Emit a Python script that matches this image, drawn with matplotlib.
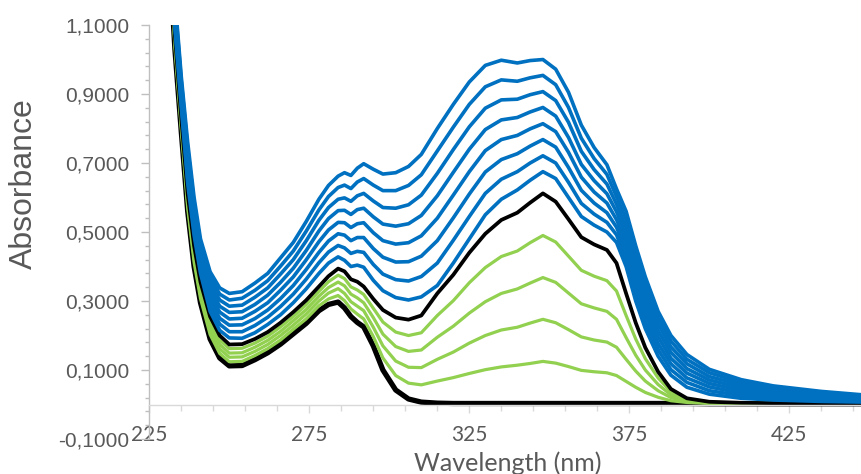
import matplotlib
matplotlib.use("Agg")
import matplotlib.pyplot as plt
from matplotlib.ticker import MultipleLocator, FixedLocator, FuncFormatter

# wavelength grid (nm) and absorbance
wavelength = [228, 231, 233, 235, 237, 239, 241, 244, 247, 250, 254, 258, 262, 266, 270,
              274, 278, 281, 284, 286, 288, 290, 292, 295, 298, 302, 306, 310, 315, 320,
              325, 330, 335, 340, 344, 348, 352, 356, 360, 364, 368, 371, 374, 377, 380,
              384, 388, 393, 400, 410, 420, 435, 448]

black_start = [2.00, 1.35, 1.03, 0.79, 0.56, 0.40, 0.295, 0.19, 0.135, 0.112, 0.113, 0.130, 0.150,
               0.175, 0.205, 0.235, 0.272, 0.290, 0.297, 0.280, 0.255, 0.238, 0.225, 0.170, 0.100,
               0.042, 0.016, 0.007, 0.004, 0.003, 0.003, 0.003, 0.003, 0.003, 0.003, 0.003, 0.003,
               0.003, 0.003, 0.003, 0.003, 0.003, 0.003, 0.003, 0.003, 0.003, 0.003, 0.003, 0.002,
               0.002, 0.002, 0.002, 0.002]

green_1 = [2.00, 1.356, 1.038, 0.798, 0.57, 0.412, 0.307, 0.203, 0.148, 0.124, 0.125, 0.142, 0.162,
           0.187, 0.218, 0.248, 0.286, 0.306, 0.316, 0.301, 0.277, 0.262, 0.248, 0.197, 0.135,
           0.084, 0.062, 0.057, 0.068, 0.078, 0.090, 0.101, 0.109, 0.114, 0.119, 0.125, 0.120,
           0.110, 0.099, 0.095, 0.092, 0.084, 0.067, 0.050, 0.035, 0.021, 0.011, 0.006, 0.003,
           0.003, 0.002, 0.002, 0.002]
green_2 = [2.01, 1.362, 1.046, 0.806, 0.58, 0.424, 0.319, 0.216, 0.161, 0.137, 0.138, 0.154, 0.174,
           0.200, 0.230, 0.262, 0.300, 0.323, 0.336, 0.322, 0.298, 0.285, 0.272, 0.224, 0.170,
           0.126, 0.108, 0.107, 0.131, 0.152, 0.178, 0.200, 0.216, 0.224, 0.236, 0.247, 0.237,
           0.217, 0.196, 0.187, 0.181, 0.166, 0.131, 0.097, 0.068, 0.040, 0.020, 0.009, 0.004,
           0.003, 0.003, 0.002, 0.002]
green_3 = [2.01, 1.368, 1.054, 0.814, 0.59, 0.436, 0.331, 0.229, 0.174, 0.149, 0.150, 0.166, 0.186,
           0.212, 0.243, 0.275, 0.314, 0.339, 0.355, 0.344, 0.320, 0.309, 0.295, 0.252, 0.204,
           0.168, 0.154, 0.158, 0.195, 0.227, 0.265, 0.298, 0.322, 0.335, 0.352, 0.368, 0.354,
           0.323, 0.292, 0.280, 0.270, 0.247, 0.194, 0.143, 0.100, 0.058, 0.028, 0.012, 0.006,
           0.004, 0.003, 0.003, 0.003]
green_4 = [2.02, 1.374, 1.062, 0.822, 0.60, 0.448, 0.343, 0.242, 0.187, 0.162, 0.163, 0.178, 0.198,
           0.225, 0.255, 0.289, 0.328, 0.356, 0.375, 0.365, 0.341, 0.332, 0.319, 0.279, 0.239,
           0.210, 0.200, 0.208, 0.258, 0.301, 0.353, 0.397, 0.429, 0.445, 0.469, 0.490, 0.471,
           0.430, 0.389, 0.372, 0.359, 0.329, 0.258, 0.190, 0.133, 0.077, 0.037, 0.015, 0.007,
           0.004, 0.003, 0.003, 0.003]

black_end = [2.02, 1.38, 1.07, 0.83, 0.61, 0.46, 0.355, 0.255, 0.200, 0.174, 0.175, 0.190, 0.210,
             0.237, 0.268, 0.302, 0.342, 0.372, 0.394, 0.386, 0.363, 0.356, 0.342, 0.306, 0.274,
             0.252, 0.246, 0.258, 0.322, 0.376, 0.440, 0.495, 0.535, 0.556, 0.585, 0.612, 0.588,
             0.537, 0.485, 0.464, 0.448, 0.410, 0.322, 0.237, 0.165, 0.095, 0.045, 0.018, 0.008,
             0.005, 0.004, 0.003, 0.003]

blue_1 = [2.03, 1.40, 1.09, 0.86, 0.64, 0.49, 0.38, 0.27, 0.215, 0.193, 0.192, 0.208, 0.232,
          0.260, 0.295, 0.335, 0.380, 0.410, 0.428, 0.418, 0.400, 0.404, 0.398, 0.360, 0.330,
          0.310, 0.303, 0.312, 0.345, 0.410, 0.480, 0.550, 0.595, 0.622, 0.650, 0.675, 0.655,
          0.600, 0.545, 0.520, 0.500, 0.470, 0.400, 0.300, 0.220, 0.140, 0.085, 0.050, 0.030,
          0.018, 0.013, 0.009, 0.007]
blue_2 = [2.04, 1.414, 1.103, 0.873, 0.657, 0.506, 0.394, 0.286, 0.233, 0.211, 0.211, 0.229, 0.253,
          0.284, 0.320, 0.363, 0.411, 0.442, 0.461, 0.454, 0.438, 0.444, 0.441, 0.406, 0.378,
          0.362, 0.358, 0.371, 0.410, 0.476, 0.545, 0.612, 0.653, 0.675, 0.700, 0.721, 0.700,
          0.644, 0.583, 0.552, 0.528, 0.492, 0.423, 0.323, 0.241, 0.159, 0.101, 0.064, 0.040,
          0.026, 0.019, 0.013, 0.010]
blue_3 = [2.05, 1.429, 1.116, 0.886, 0.674, 0.521, 0.409, 0.303, 0.250, 0.230, 0.231, 0.249, 0.274,
          0.307, 0.345, 0.391, 0.441, 0.474, 0.495, 0.491, 0.475, 0.484, 0.484, 0.452, 0.427,
          0.413, 0.414, 0.430, 0.475, 0.541, 0.610, 0.674, 0.710, 0.727, 0.749, 0.768, 0.746,
          0.687, 0.621, 0.584, 0.556, 0.514, 0.446, 0.346, 0.263, 0.177, 0.118, 0.077, 0.051,
          0.033, 0.025, 0.017, 0.013]
blue_4 = [2.06, 1.443, 1.129, 0.899, 0.691, 0.537, 0.423, 0.319, 0.268, 0.248, 0.250, 0.270, 0.295,
          0.331, 0.370, 0.419, 0.472, 0.506, 0.528, 0.527, 0.513, 0.524, 0.527, 0.498, 0.475,
          0.465, 0.469, 0.489, 0.540, 0.607, 0.675, 0.736, 0.768, 0.780, 0.799, 0.814, 0.791,
          0.731, 0.659, 0.616, 0.584, 0.536, 0.469, 0.369, 0.284, 0.196, 0.134, 0.091, 0.061,
          0.041, 0.031, 0.021, 0.016]
blue_5 = [2.07, 1.457, 1.141, 0.911, 0.709, 0.553, 0.437, 0.336, 0.285, 0.267, 0.269, 0.290, 0.317,
          0.354, 0.395, 0.446, 0.503, 0.539, 0.562, 0.563, 0.551, 0.565, 0.569, 0.544, 0.523,
          0.517, 0.524, 0.548, 0.605, 0.673, 0.740, 0.797, 0.825, 0.832, 0.848, 0.861, 0.836,
          0.774, 0.696, 0.649, 0.611, 0.559, 0.491, 0.391, 0.306, 0.214, 0.151, 0.104, 0.071,
          0.049, 0.036, 0.026, 0.019]
blue_6 = [2.08, 1.471, 1.154, 0.924, 0.726, 0.569, 0.451, 0.352, 0.303, 0.285, 0.288, 0.311, 0.338,
          0.378, 0.420, 0.474, 0.534, 0.571, 0.595, 0.599, 0.589, 0.605, 0.612, 0.590, 0.571,
          0.569, 0.579, 0.607, 0.670, 0.739, 0.805, 0.859, 0.883, 0.885, 0.898, 0.907, 0.881,
          0.818, 0.734, 0.681, 0.639, 0.581, 0.514, 0.414, 0.327, 0.233, 0.167, 0.118, 0.081,
          0.057, 0.042, 0.030, 0.022]
blue_7 = [2.09, 1.486, 1.167, 0.937, 0.743, 0.584, 0.466, 0.369, 0.320, 0.303, 0.308, 0.331, 0.359,
          0.401, 0.445, 0.502, 0.564, 0.603, 0.629, 0.636, 0.626, 0.645, 0.655, 0.636, 0.620,
          0.620, 0.635, 0.666, 0.735, 0.804, 0.870, 0.921, 0.941, 0.937, 0.947, 0.954, 0.927,
          0.861, 0.772, 0.713, 0.667, 0.603, 0.537, 0.437, 0.349, 0.251, 0.184, 0.131, 0.092,
          0.064, 0.048, 0.034, 0.025]
blue_8 = [2.10, 1.50, 1.18, 0.95, 0.76, 0.60, 0.48, 0.385, 0.338, 0.322, 0.327, 0.352, 0.380,
          0.425, 0.470, 0.530, 0.595, 0.635, 0.662, 0.672, 0.664, 0.685, 0.698, 0.682, 0.668,
          0.672, 0.690, 0.725, 0.800, 0.870, 0.935, 0.983, 0.998, 0.990, 0.997, 1.000, 0.972,
          0.905, 0.810, 0.745, 0.695, 0.625, 0.560, 0.460, 0.370, 0.270, 0.200, 0.145, 0.102,
          0.072, 0.054, 0.038, 0.028]

x_ticks = [225, 275, 325, 375, 425]

GREY_TEXT = '#595959'
GREY_AXIS = '#BFBFBF'
BLUE = '#0070C0'
GREEN = '#92D050'

fig = plt.figure(figsize=(8.61, 4.74), dpi=100)
ax = fig.add_axes([0.1734, 0.0738, 0.8266, 0.8734])

kw = dict(solid_joinstyle='round', solid_capstyle='round')
ax.plot(wavelength, black_start, color='black', lw=3.8, **kw)
for g in (green_1, green_2, green_3, green_4):
    ax.plot(wavelength, g, color=GREEN, lw=2.3, **kw)
ax.plot(wavelength, black_end, color='black', lw=2.7, **kw)
for b in (blue_1, blue_2, blue_3, blue_4, blue_5, blue_6, blue_7, blue_8):
    ax.plot(wavelength, b, color=BLUE, lw=2.6, **kw)

ax.set_xlim(225, 447.4)
ax.set_ylim(-0.1, 1.1)

for side in ('top', 'right'):
    ax.spines[side].set_visible(False)
ax.spines['bottom'].set_position(('data', 0))
ax.spines['bottom'].set_color('#D9D9D9')
ax.spines['left'].set_color(GREY_AXIS)
ax.spines['bottom'].set_linewidth(1.0)
ax.spines['left'].set_linewidth(1.0)

ax.xaxis.set_major_locator(FixedLocator(x_ticks))
ax.xaxis.set_minor_locator(MultipleLocator(10, offset=5))
ax.yaxis.set_major_locator(MultipleLocator(0.2, offset=0.1))
ax.yaxis.set_minor_locator(MultipleLocator(0.04, offset=0.02))
ax.yaxis.set_major_formatter(FuncFormatter(lambda v, p: f"{v:.4f}".replace('.', ',')))

ax.tick_params(axis='x', which='major', length=6, width=1, color='#D9D9D9', pad=9,
               labelsize=15, labelcolor=GREY_TEXT)
ax.tick_params(axis='x', which='minor', length=4, width=1, color='#D9D9D9')
ax.tick_params(axis='y', which='major', length=5.5, width=1, color=GREY_AXIS, pad=9,
               labelsize=15, labelcolor=GREY_TEXT)
ax.tick_params(axis='y', which='minor', length=3, width=1, color=GREY_AXIS)
for lab in ax.get_xticklabels():
    lab.set_family('Lato')
for lab in ax.get_yticklabels():
    lab.set_family('Liberation Sans')

fig.text(0.0279, 0.6118, 'Absorbance', rotation=90, ha='center', va='center',
         fontsize=23, color=GREY_TEXT, family='Liberation Sans')
fig.text(0.590, 0.0063, 'Wavelength (nm)', ha='center', va='baseline',
         fontsize=18, color=GREY_TEXT, family='Lato')

fig.savefig('out.png', dpi=100)
